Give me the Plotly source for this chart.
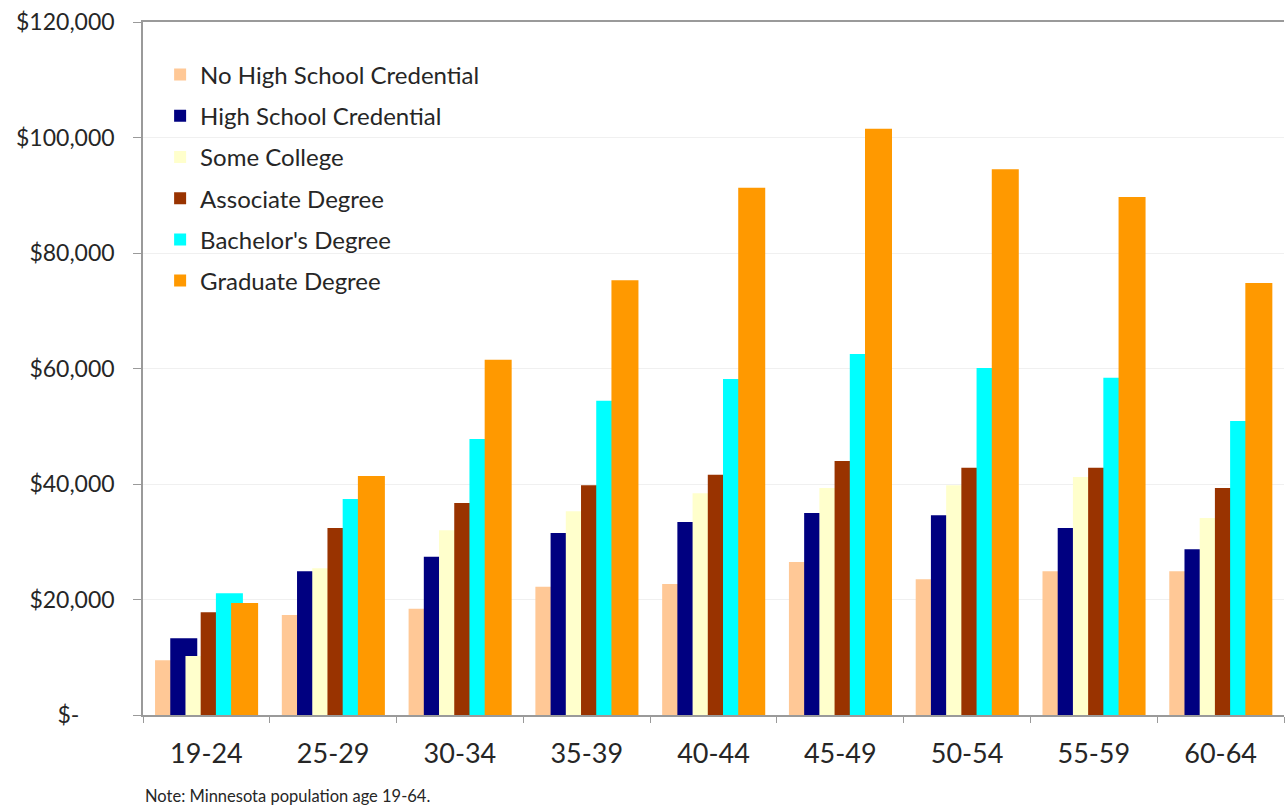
import plotly.graph_objects as go

age_groups = ["19-24", "25-29", "30-34", "35-39", "40-44", "45-49", "50-54", "55-59", "60-64"]

no_high_school = [9500, 17300, 18400, 22200, 22700, 26500, 23500, 24900, 24900]
high_school = [13300, 24900, 27400, 31500, 33400, 35000, 34600, 32400, 28700]
some_college = [10200, 25400, 32000, 35300, 38400, 39300, 39800, 41200, 34100]
associate = [17800, 32400, 36700, 39800, 41600, 44000, 42800, 42800, 39300]
bachelor = [21100, 37400, 47800, 54400, 58200, 62500, 60100, 58400, 50900]
graduate = [19400, 41400, 61500, 75300, 91300, 101500, 94500, 89700, 74800]

series_names = [
    "No High School Credential",
    "High School Credential",
    "Some College",
    "Associate Degree",
    "Bachelor's Degree",
    "Graduate Degree",
]
series_values = [no_high_school, high_school, some_college, associate, bachelor, graduate]
series_colors = ["#FFC896", "#000080", "#FFFFCC", "#993300", "#00FFFF", "#FF9900"]

y_tick_values = [0, 20000, 40000, 60000, 80000, 100000, 120000]
# accounting-style zero: the dash sits left of the digit column
y_tick_labels = ["$-" + "\u00a0" * 6, "$20,000", "$40,000", "$60,000", "$80,000", "$100,000", "$120,000"]

# overlapping clustered bars: each bar is wider than the step between them
bar_width = 0.213
bar_step = 0.12
first_offset = -0.405

fig = go.Figure()
for i, (name, vals, color) in enumerate(zip(series_names, series_values, series_colors)):
    fig.add_trace(go.Bar(
        x=age_groups,
        y=vals,
        name=name,
        legendgroup=name,
        marker=dict(color=color, line=dict(width=0)),
        width=bar_width,
        offset=first_offset + i * bar_step,
    ))

font_family = "Lato, 'Open Sans', sans-serif"
text_color = "#262626"

fig.update_layout(
    barmode="overlay",
    width=1286,
    height=805,
    margin=dict(l=143, r=2, t=22, b=90),
    paper_bgcolor="white",
    plot_bgcolor="white",
    font=dict(family=font_family, size=22, color=text_color),
    showlegend=True,
    legend=dict(
        x=0.015,
        y=0.956,
        xanchor="left",
        yanchor="top",
        bgcolor="rgba(0,0,0,0)",
        font=dict(family=font_family, size=24, color=text_color),
        tracegroupgap=7,
        traceorder="grouped",
    ),
    xaxis=dict(
        type="category",
        showgrid=False,
        showline=True,
        linecolor="#9A9A9A",
        linewidth=1.5,
        mirror=True,
        ticks="outside",
        tickson="boundaries",
        ticklen=6,
        tickcolor="#9A9A9A",
        ticklabelstandoff=14,
        tickfont=dict(family=font_family, size=27, color=text_color),
        range=[-0.5, 8.5],
    ),
    yaxis=dict(
        range=[0, 120000],
        tickvals=y_tick_values,
        ticktext=y_tick_labels,
        showgrid=True,
        gridcolor="#F0F0F0",
        gridwidth=1,
        showline=True,
        linecolor="#9A9A9A",
        linewidth=1.5,
        ticks="outside",
        ticklen=8,
        tickcolor="#9A9A9A",
        ticklabelstandoff=14,
        tickfont=dict(family=font_family, size=23, color=text_color),
        zeroline=False,
    ),
)

fig.add_annotation(
    text="Note: Minnesota population age 19-64.",
    xref="paper", yref="paper",
    x=0.0, y=(715 - 796) / 693,
    xanchor="left", yanchor="middle",
    showarrow=False,
    font=dict(family=font_family, size=16.5, color=text_color),
)

fig.write_html("out.html")
